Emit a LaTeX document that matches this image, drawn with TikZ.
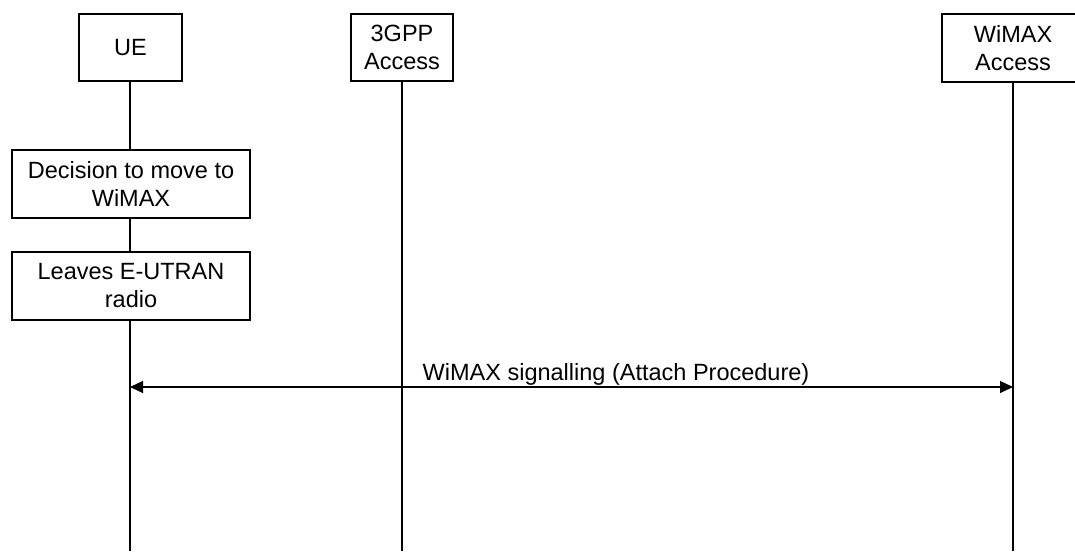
\documentclass[tikz,border=0pt]{standalone}
\usepackage{fontspec}
\setmainfont{Liberation Sans}
\usetikzlibrary{arrows.meta}
\begin{document}
\begin{tikzpicture}[x=1pt,y=-1pt,
  box/.style={draw,line width=1.2pt,align=center,inner sep=0pt,font=\fontsize{23.5}{28}\selectfont},
  life/.style={line width=1.2pt},
  msg/.style={line width=1.2pt,{Triangle[length=13pt,width=12pt]}-{Triangle[length=13pt,width=12pt]}},
  lbl/.style={font=\fontsize{23.5}{28}\selectfont,inner sep=0pt}]
\useasboundingbox (0,0) rectangle (1075,551);
\node[box,minimum width=103pt,minimum height=67pt] (ue) at (130.5,47.5) {UE};
\node[box,minimum width=102pt,minimum height=67pt] (gpp) at (402,47.5) {3GPP\\Access};
\node[box,minimum width=142pt,minimum height=68pt] (wmx) at (1013,48) {WiMAX\\Access};
\node[box,minimum width=238pt,minimum height=68pt] (dec) at (131,184) {Decision to move to\\WiMAX};
\node[box,minimum width=238pt,minimum height=68pt] (lea) at (131,286) {Leaves E-UTRAN\\radio};
\coordinate (ueb) at (130,551);
\coordinate (gppb) at (402,551);
\coordinate (wmxb) at (1013,551);
\coordinate (uem) at (130,387);
\coordinate (wmxm) at (1013,387);
\draw[life] (ue.south -| uem) -- (dec.north -| uem);
\draw[life] (dec.south -| uem) -- (lea.north -| uem);
\draw[life] (lea.south -| uem) -- (ueb);
\draw[life] (gpp.south) -- (gppb);
\draw[life] (wmx.south) -- (wmxb);
\draw[msg] (uem) -- (wmxm);
\node[lbl,anchor=base] (ml) at (616,380) {WiMAX signalling (Attach Procedure)};
\end{tikzpicture}
\end{document}
